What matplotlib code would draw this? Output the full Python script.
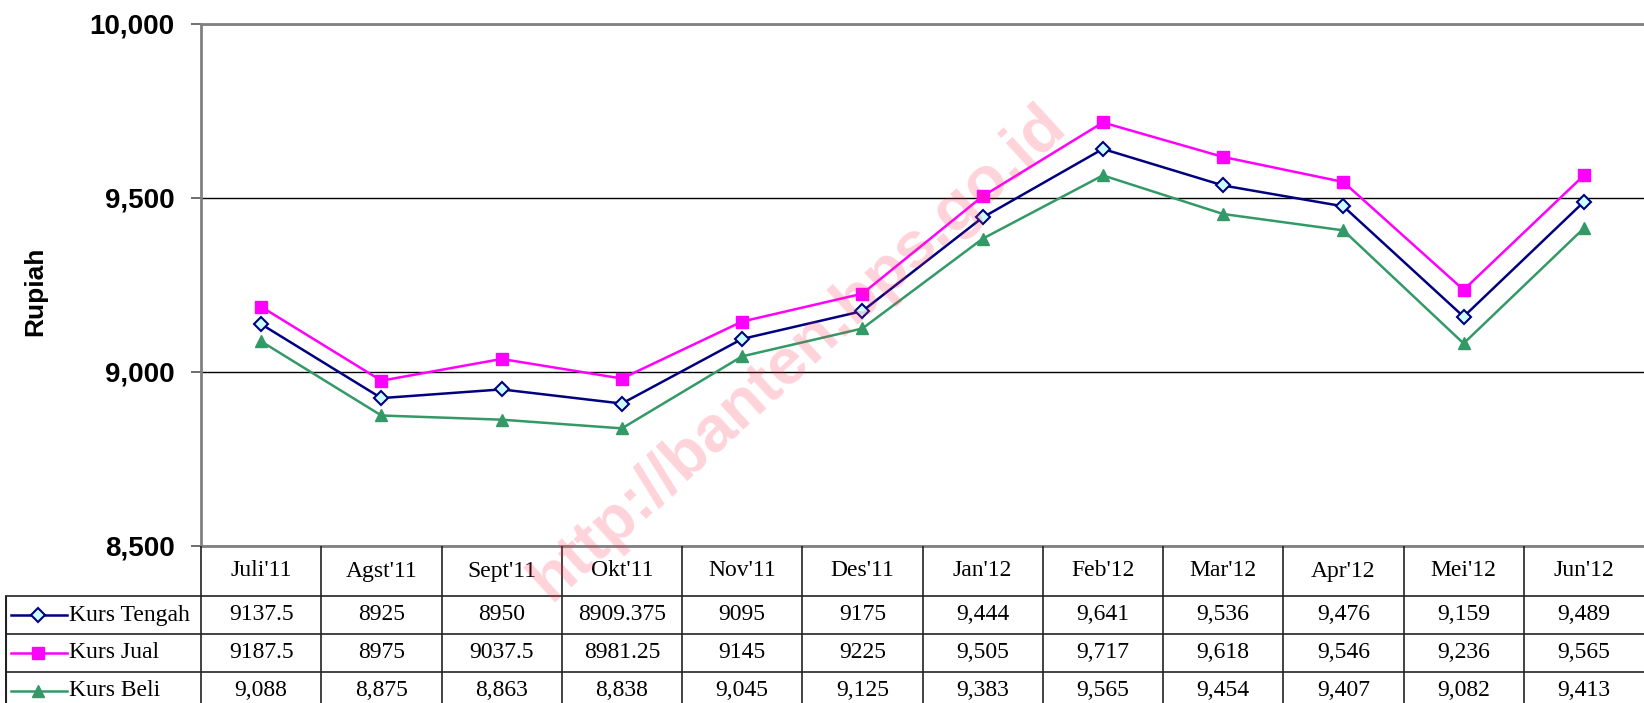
import matplotlib.pyplot as plt
from matplotlib.ticker import FuncFormatter, MultipleLocator

# bulan (Juli 2011 - Juni 2012)
months = ["Juli'11", "Agst'11", "Sept'11", "Okt'11", "Nov'11", "Des'11",
          "Jan'12", "Feb'12", "Mar'12", "Apr'12", "Mei'12", "Jun'12"]

kurs_tengah = [9137.5, 8925, 8950, 8909.375, 9095, 9175,
               9444, 9641, 9536, 9476, 9159, 9489]
kurs_jual = [9187.5, 8975, 9037.5, 8981.25, 9145, 9225,
             9505, 9717, 9618, 9546, 9236, 9565]
kurs_beli = [9088, 8875, 8863, 8838, 9045, 9125,
             9383, 9565, 9454, 9407, 9082, 9413]

# first 6 months of tengah/jual are printed unformatted in the table
n_raw = 6

series = [
    ("Kurs Tengah", kurs_tengah, dict(color="#000080", marker="D", ms=7,
                                      mfc="#ccffff", mec="#000080", mew=1.5), True),
    ("Kurs Jual", kurs_jual, dict(color="#ff00ff", marker="s", ms=8.5,
                                  mfc="#ff00ff", mec="#ff00ff"), True),
    ("Kurs Beli", kurs_beli, dict(color="#339966", marker="^", ms=8.5,
                                  mfc="#339966", mec="#339966"), False),
]


def fmt_cell(v, i, raw):
    if raw and i < n_raw:
        return ("%f" % v).rstrip("0").rstrip(".")
    return f"{v:,.0f}"


W, H = 1644, 703
fig = plt.figure(figsize=(W / 100, H / 100), dpi=100)

# pixel layout of the reference
ax_left, ax_right, ax_top, ax_bot = 201, 1644, 24, 546
col_w = (ax_right - ax_left) / len(months)
ax = fig.add_axes([ax_left / W, 1 - ax_bot / H, (ax_right - ax_left) / W, (ax_bot - ax_top) / H])

x = list(range(len(months)))
for name, vals, style, raw in series:
    ax.plot(x, vals, lw=1.8, zorder=3, **style)

ax.set_xlim(-0.5, len(months) - 0.5)
ax.set_ylim(8500, 10000)
ax.yaxis.set_major_locator(MultipleLocator(500))
ax.yaxis.set_major_formatter(FuncFormatter(lambda v, p: f"{v:,.0f}"))
ax.set_xticks([])
ax.yaxis.grid(True, color="black", lw=1.0)
ax.set_axisbelow(True)
ax.tick_params(axis="y", length=7, width=1.2, color="#555555", pad=12)
for lab in ax.get_yticklabels():
    lab.set_fontfamily("Liberation Sans")
    lab.set_fontweight("bold")
    lab.set_fontsize(20)
ax.spines["right"].set_visible(False)
for s in ["left", "top", "bottom"]:
    ax.spines[s].set_color("#808080")
    ax.spines[s].set_linewidth(2)

fig.text(35 / W, 1 - 291 / H, "Rupiah", rotation=90, ha="center", va="center",
         fontfamily="Liberation Sans", fontweight="bold", fontsize=19)

# data table below the plot
tab_left = 5
tab = fig.add_axes([tab_left / W, 0, (W - tab_left) / W, (H - ax_bot) / H])
tx = lambda px: (px - ax_left) / col_w - 0.5
tab.set_xlim(tx(tab_left), len(months) - 0.5)
tab.set_ylim(H - ax_bot, 0)
tab.axis("off")

tfs = 17
header_h, row_h = 50, 38
row_tops = [header_h + k * row_h for k in range(len(series))]
lc = "#222222"
for k in range(len(months)):
    tab.vlines(k - 0.5, 0, H, color=lc, lw=1.2)
    tab.text(k, header_h / 2, months[k], ha="center", va="center",
             fontfamily="Liberation Serif", fontsize=tfs)
tab.vlines(tx(tab_left) + 0.01, header_h, H, color=lc, lw=1.5)
for yt in row_tops:
    tab.hlines(yt, tx(tab_left), len(months) - 0.5, color=lc, lw=1.2)

for (name, vals, style, raw), yt in zip(series, row_tops):
    yc = yt + row_h / 2
    tab.plot([tx(11), tx(67)], [yc, yc], lw=1.8, color=style["color"])
    tab.plot([tx(38)], [yc], lw=0, **style)
    tab.text(tx(69), yc, name, ha="left", va="center",
             fontfamily="Liberation Serif", fontsize=tfs)
    for i, v in enumerate(vals):
        tab.text(i, yc, fmt_cell(v, i, raw), ha="center", va="center",
                 fontfamily="Liberation Serif", fontsize=tfs)

# watermark
fig.text(798 / W, 1 - 353 / H, "http://banten.bps.go.id", rotation=42.5,
         ha="center", va="center", fontfamily="Liberation Sans", fontweight="bold",
         fontsize=47, color="#ff3355", alpha=0.22, zorder=10)

fig.savefig("out.png", dpi=100)
